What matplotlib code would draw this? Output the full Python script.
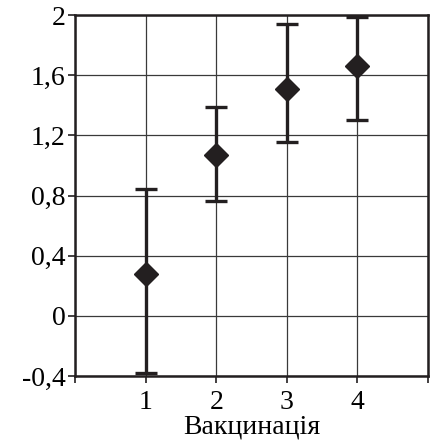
import numpy as np
import matplotlib
matplotlib.use('Agg')
import matplotlib.pyplot as plt
from matplotlib.ticker import FuncFormatter

plt.rcParams['font.family'] = ['Liberation Serif', 'DejaVu Serif']

# data
vaccination = [1, 2, 3, 4]
mean_val = [0.276, 1.069, 1.51, 1.663]
err_low = [-0.382, 0.761, 1.158, 1.30]
err_high = [0.841, 1.39, 1.94, 1.985]
yticks = [-0.4, 0, 0.4, 0.8, 1.2, 1.6, 2]

mean_val = np.array(mean_val)
yerr = [mean_val - np.array(err_low), np.array(err_high) - mean_val]

fig = plt.figure(figsize=(4.32, 4.43), dpi=100)
ax = fig.add_axes([0.1736, 0.1512, 0.8171, 0.8149])

ax.errorbar(vaccination, mean_val, yerr=yerr, fmt='D', color='#231f20',
            ms=12, elinewidth=2.4, capsize=8, capthick=2.4, zorder=5)

ax.set_xlim(0, 5)
ax.set_ylim(-0.4, 2)
ax.set_xticks([0, 1, 2, 3, 4, 5])
ax.set_xticklabels(['', '1', '2', '3', '4', ''])
ax.set_yticks(yticks)
ax.yaxis.set_major_formatter(FuncFormatter(lambda v, p: ('%g' % round(v, 1)).replace('.', ',')))
ax.grid(True, color='#3a3a3a', linewidth=0.9)
ax.set_axisbelow(True)
for s in ax.spines.values():
    s.set_linewidth(1.8)
    s.set_color('#231f20')
ax.tick_params(direction='out', length=5, width=1.2, labelsize=20, pad=2, color='#231f20')
ax.tick_params(axis='x', pad=5)
ax.set_xlabel('Вакцинація', fontsize=20, labelpad=0)

fig.savefig('out.png', dpi=100)
